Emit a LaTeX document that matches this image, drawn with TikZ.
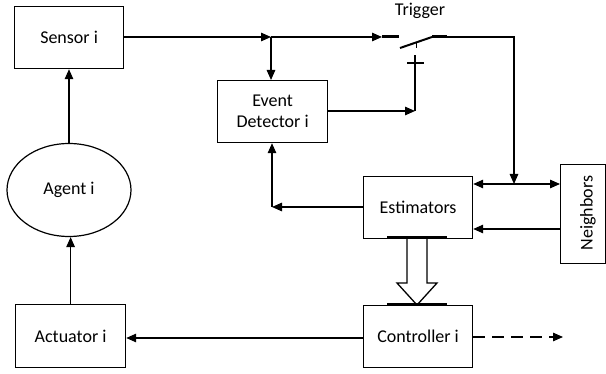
\documentclass[tikz,border=0pt]{standalone}
\usepackage{fontspec}
\setmainfont{Carlito}
\usetikzlibrary{arrows.meta,shapes.geometric}
\begin{document}
\begin{tikzpicture}[x=1pt,y=-1pt,
  font=\fontsize{18}{22}\selectfont,
  box/.style={draw,line width=1.2pt,inner sep=0pt,anchor=north west},
  conn/.style={line width=1.3pt},
  arr/.style={conn,-{Triangle[length=10pt,width=8.5pt]}},
  darr/.style={conn,{Triangle[length=10pt,width=8.5pt]}-{Triangle[length=10pt,width=8.5pt]}},
  thick bar/.style={line width=3pt}]
\useasboundingbox (0,0) rectangle (606,374);
% nodes
\node[box,minimum width=109pt,minimum height=62pt] (sensor) at (14,6) {Sensor i};
\node[draw,line width=1.2pt,ellipse,minimum width=124pt,minimum height=93pt,inner sep=0pt] (agent) at (69,190) {Agent i};
\node[box,minimum width=110pt,minimum height=63pt] (actuator) at (15,304) {Actuator i};
\node[box,minimum width=110pt,minimum height=62pt,align=center] (ed) at (217,80) {Event\\[-1pt]Detector i};
\node[box,minimum width=109pt,minimum height=62pt] (est) at (363,176) {Estimators};
\node[box,minimum width=109pt,minimum height=62pt] (ctrl) at (363,305) {Controller i};
\node[box,minimum width=45pt,minimum height=99pt] (nb) at (560,164) {};
\node[rotate=90] (nbtext) at (588,213) {Neighbors};
\node (trig) at (420,11) {Trigger};
% coordinates
\coordinate (j1) at (271,37);
\coordinate (sw) at (382,37);
\coordinate (c1) at (415,111);
\coordinate (tee) at (415,55);
\coordinate (sr) at (447,37);
\coordinate (r1) at (514,37);
\coordinate (j2) at (514,184);
\coordinate (c2) at (272,207);
\coordinate (dend) at (563,337);
% connectors
\draw[arr] (agent.north) -- (agent.north |- sensor.south);
\draw[arr] (actuator.north) -- (actuator.north |- agent.south);
\draw[arr] (sensor.east |- j1) -- (j1);
\draw[arr] (j1) -- (sw);
\draw[arr] (j1) -- (j1 |- ed.north);
\draw[arr] (ed.east |- c1) -- (c1);
\draw[conn] (c1) -- (tee);
\draw[conn] (407,63) -- (424,63);
\draw[line width=1pt] (416,43) -- (416,48);
% switch
\draw[thick bar] (sw) -- (399,37);
\draw[line width=2pt] (400,48) -- (432,37);
\draw[thick bar] (432,37) -- (sr);
\draw[arr] (sr) -- (r1) -- (j2);
\draw[darr] (est.east |- j2) -- (nb.west |- j2);
\draw[arr] (nb.west |- 0,229) -- (est.east |- 0,229);
\draw[arr] (est.west |- c2) -- (c2);
\draw[arr] (c2) -- (c2 |- ed.south);
\draw[arr] (ctrl.west |- 0,338) -- (actuator.east |- 0,338);
\draw[arr,dash pattern=on 12pt off 7pt] (ctrl.east |- dend) -- (dend);
% hollow arrow
\draw[line width=1.3pt,fill=white] (407,238) -- (407,283) -- (397,283) -- (417,305) -- (437,283) -- (427,283) -- (427,238);
\draw[thick bar] (387,238) -- (447,238);
\draw[thick bar] (387,305) -- (447,305);
\end{tikzpicture}
\end{document}
